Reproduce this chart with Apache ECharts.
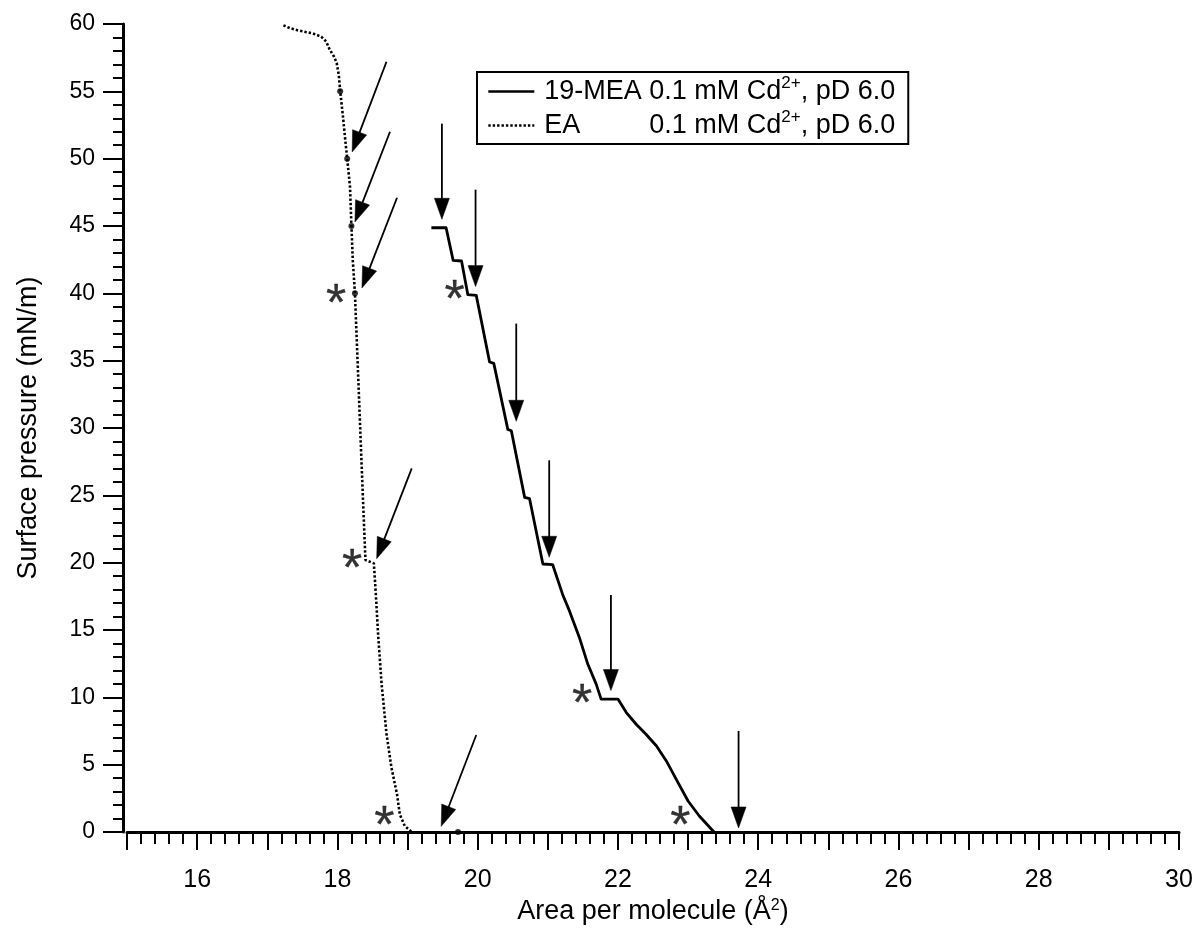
<!DOCTYPE html>
<html>
<head>
<meta charset="utf-8">
<script src="https://cdn.jsdelivr.net/npm/echarts@6/dist/echarts.min.js"></script>
<style>
html,body{margin:0;padding:0;background:#fff;}
#chart{width:1197px;height:932px;}
</style>
</head>
<body>
<div id="chart"></div>
<script>
// ---- data ----
const meaArea = [19.34,19.55,19.65,19.77,19.86,19.98,20.17,20.23,20.43,20.48,20.67,20.74,20.93,21.07,21.21,21.31,21.45,21.57,21.69,21.76,22.00,22.12,22.26,22.40,22.55,22.69,22.83,23.00,23.16,23.37];
const meaPressure = [44.87,44.87,42.45,42.40,39.90,39.85,34.90,34.80,29.90,29.80,24.85,24.75,19.90,19.85,17.66,16.40,14.45,12.47,10.98,9.87,9.87,8.87,8.00,7.26,6.39,5.28,3.92,2.30,1.19,0.00];

const eaArea = [17.23,17.32,17.42,17.55,17.65,17.77,17.84,17.89,17.95,17.99,18.02,18.04,18.08,18.11,18.14,18.18,18.20,18.22,18.25,18.28,18.31,18.34,18.37,18.40,18.52,18.55,18.58,18.63,18.70,18.77,18.85,18.89,18.96,19.06];
const eaPressure = [59.9,59.7,59.55,59.4,59.3,59.06,58.7,58.1,57.6,57.1,56.2,55.0,53.1,51.5,50.0,47.9,45.0,42.4,40.0,36.0,32.0,28.0,24.0,20.2,19.95,17.5,14.7,11.0,7.3,4.8,2.8,1.3,0.45,0.0];

const dotArea = [18.04,18.14,18.20,18.25,19.72];
const dotPressure = [55.0,50.0,45.0,40.0,0.0];

const arrowTailArea = [18.70,18.75,18.85,19.06,19.98,19.49,19.97,20.55,21.02,21.90,23.72];
const arrowTailPressure = [57.2,52.0,47.1,27.0,7.2,52.6,47.7,37.75,27.6,17.6,7.5];
const arrowTipArea = [18.21,18.25,18.35,18.56,19.48,19.49,19.97,20.55,21.02,21.90,23.72];
const arrowTipPressure = [50.5,45.3,40.4,20.3,0.42,45.5,40.5,30.5,20.4,10.5,0.3];

const starArea = [17.98,18.21,18.67,19.67,21.49,22.89];
const starPressure = [40.0,20.3,1.25,40.25,10.3,1.25];

const xTickLabels = ['16','18','20','22','24','26','28','30'];
const seriesNames = ['19-MEA','EA'];

// ---- chart ----
const FONT = 'Liberation Sans, Arial, sans-serif';
const chart = echarts.init(document.getElementById('chart'), null, {renderer:'canvas'});
const zip = (a,b) => a.map((v,i)=>[v,b[i]]);

const option = {
  backgroundColor:'#fff',
  animation:false,
  textStyle:{fontFamily:FONT,color:'#000'},
  grid:{left:127,right:18,top:24,bottom:100,containLabel:false},
  legend:{
    show:true,
    orient:'vertical',
    left:477, top:72,
    padding:[3,13,5,10],
    itemGap:4,
    itemWidth:46, itemHeight:14,
    borderColor:'#000', borderWidth:2,
    backgroundColor:'#fff',
    data:seriesNames,
    itemStyle:{opacity:0},
    lineStyle:{width:2.6},
    formatter:function(name){
      const lead = name === '19-MEA' ? '19-MEA' : 'EA';
      return '{a|' + lead + '}{b|0.1 mM Cd}{s|2+}{b|, pD 6.0}';
    },
    textStyle:{
      fontFamily:FONT, color:'#000', fontSize:27, padding:[0,0,0,5],
      rich:{
        a:{fontFamily:FONT,fontSize:27,color:'#000',width:105,lineHeight:33},
        b:{fontFamily:FONT,fontSize:27,color:'#000',lineHeight:33},
        s:{fontFamily:FONT,fontSize:17,color:'#000',lineHeight:14,verticalAlign:'top'}
      }
    }
  },
  xAxis:{
    type:'value', min:15, max:30, interval:1,
    name:'Area per molecule (Å{s|2})',
    nameLocation:'middle', nameGap:60,
    nameTextStyle:{fontFamily:FONT,fontSize:27,color:'#000',
      rich:{s:{fontFamily:FONT,fontSize:16,color:'#000',verticalAlign:'top',lineHeight:10}}},
    axisLine:{show:true,onZero:false,lineStyle:{color:'#000',width:3}},
    axisTick:{show:true,inside:false,length:18,lineStyle:{color:'#000',width:2}},
    minorTick:{show:true,splitNumber:5,length:12,lineStyle:{color:'#000',width:2}},
    splitLine:{show:false}, minorSplitLine:{show:false},
    axisLabel:{show:true,margin:36,fontFamily:FONT,fontSize:25,color:'#000',
      formatter:function(v){ const s=String(v); return xTickLabels.indexOf(s)>=0 ? s : ''; }}
  },
  yAxis:{
    type:'value', min:0, max:60, interval:5, offset:4,
    name:'Surface pressure (mN/m)',
    nameLocation:'middle', nameGap:81,
    nameTextStyle:{fontFamily:FONT,fontSize:27,color:'#000'},
    axisLine:{show:true,onZero:false,lineStyle:{color:'#000',width:3}},
    axisTick:{show:true,inside:false,length:20,lineStyle:{color:'#000',width:2}},
    minorTick:{show:true,splitNumber:5,length:10,lineStyle:{color:'#000',width:2}},
    splitLine:{show:false}, minorSplitLine:{show:false},
    axisLabel:{show:true,margin:28,fontFamily:FONT,fontSize:23,color:'#000'}
  },
  series:[
    {
      name:'19-MEA', type:'line', data:zip(meaArea,meaPressure),
      showSymbol:false, symbol:'none', smooth:false,
      lineStyle:{color:'#000',width:2.8,join:'round'},
      itemStyle:{color:'#000'}, z:3
    },
    {
      name:'EA', type:'line', data:zip(eaArea,eaPressure),
      showSymbol:false, symbol:'none', smooth:false,
      lineStyle:{color:'#000',width:2.6,type:[2.4,2]},
      itemStyle:{color:'#000'}, z:3
    },
    {
      name:'marks', type:'scatter', data:zip(dotArea,dotPressure),
      symbol:'circle', symbolSize:6, itemStyle:{color:'#000'}, z:4, silent:true
    },
    {
      name:'stars', type:'scatter', data:zip(starArea,starPressure),
      symbol:'circle', symbolSize:0, itemStyle:{color:'rgba(0,0,0,0)'}, z:5, silent:true,
      label:{show:true,position:'inside',formatter:'*',fontFamily:FONT,fontSize:52,color:'#000',
        textBorderColor:'#000',textBorderWidth:0.3,offset:[0,12]}
    },
    {
      name:'arrows', type:'custom', silent:true, z:6,
      data:arrowTailArea.map((a,i)=>[a,arrowTailPressure[i],arrowTipArea[i],arrowTipPressure[i]]),
      encode:{x:[0,2],y:[1,3]},
      renderItem:function(params, api){
        const s = api.coord([api.value(0), api.value(1)]);
        const t = api.coord([api.value(2), api.value(3)]);
        const dx = t[0]-s[0], dy = t[1]-s[1];
        const len = Math.hypot(dx,dy);
        const ux = dx/len, uy = dy/len, px = -uy, py = ux;
        const L = 21, W = 7.5;
        const bx = t[0]-ux*L, by = t[1]-uy*L;
        return {type:'group', children:[
          {type:'line', shape:{x1:s[0],y1:s[1],x2:bx+ux*3,y2:by+uy*3}, style:{stroke:'#000',lineWidth:1.8}},
          {type:'polygon', shape:{points:[[t[0],t[1]],[bx+px*W,by+py*W],[bx-px*W,by-py*W]]}, style:{fill:'#000',stroke:'#000',lineWidth:0.5}}
        ]};
      }
    }
  ]
};
chart.setOption(option);
</script>
</body>
</html>
